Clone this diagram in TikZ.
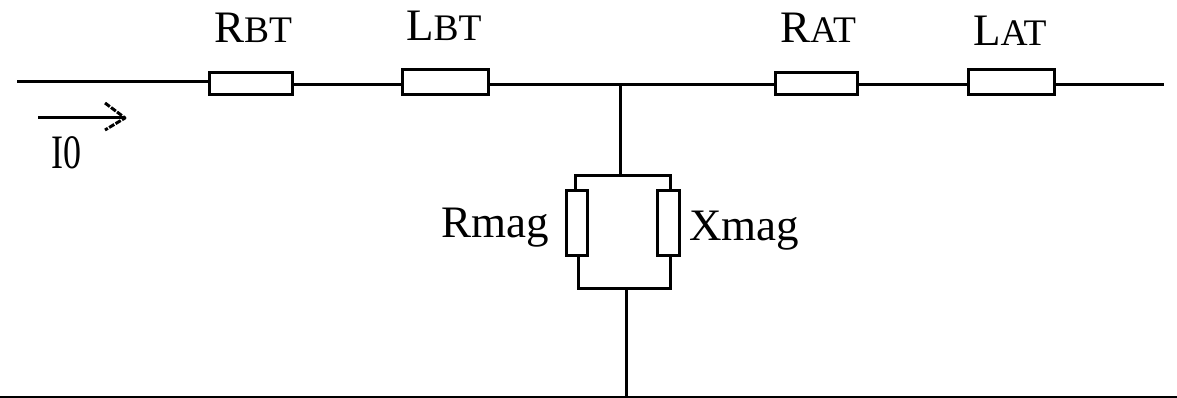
\documentclass[tikz,border=0pt]{standalone}
\usepackage{fontspec}
\setmainfont{Liberation Serif}
\newcommand{\bigf}{\fontsize{45}{45}\selectfont}
\newcommand{\smallf}{\fontsize{37.5}{37.5}\selectfont}
\tikzset{
  wire/.style={line width=3pt,black},
  res/.style={draw,line width=3pt,fill=white,inner sep=0pt,outer sep=0pt},
  lab/.style={inner sep=0pt,anchor=base west},
  openhead/.style={line width=3pt,dash pattern=on 6pt off 1.5pt,line join=round}
}
\begin{document}
\begin{tikzpicture}[x=1pt,y=-1pt]
\useasboundingbox (0,0) rectangle (1177,398);
% series elements
\node[res,minimum width=83pt,minimum height=22pt] (rbt) at (250.5,84) {};
\node[res,minimum width=86pt,minimum height=25pt] (lbt) at (445,82.5) {};
\node[res,minimum width=82pt,minimum height=22pt] (rat) at (816,84) {};
\node[res,minimum width=86pt,minimum height=25pt] (lat) at (1011,82.5) {};
% shunt elements
\node[res,minimum width=21pt,minimum height=64pt] (rmag) at (576.5,223) {};
\node[res,minimum width=22pt,minimum height=64pt] (xmag) at (668,223) {};
% coordinates
\coordinate (in) at (17,82);
\coordinate (rbtin) at (209,82);
\coordinate (rbtout) at (292,85);
\coordinate (lbtin) at (402,85);
\coordinate (lbtout) at (488,85);
\coordinate (ratin) at (775,85);
\coordinate (ratout) at (857,85);
\coordinate (latin) at (968,85);
\coordinate (latout) at (1054,85);
\coordinate (out) at (1164,85);
\coordinate (tee) at (620.5,85);
\coordinate (toprail) at (620.5,176);
\coordinate (tl) at (575,176);
\coordinate (tr) at (670,176);
\coordinate (bl) at (578,288);
\coordinate (br) at (670,288);
\coordinate (botrail) at (626,288);
\coordinate (gnd) at (626,397);
\coordinate (gl) at (0,397);
\coordinate (gr) at (1177,397);
\coordinate (arrs) at (38,118);
\coordinate (arre) at (125,118);
\coordinate (arru) at (105,103);
\coordinate (arrd) at (105,130);
% wires
\draw[wire] (in) -- (rbtin);
\draw[wire] (rbtout) -- (lbtin);
\draw[wire] (lbtout) -- (ratin);
\draw[wire] (ratout) -- (latin);
\draw[wire] (latout) -- (out);
\draw[wire] (tee) -- (toprail);
\draw[wire,line cap=rect] (tl) -- (tr);
\draw[wire] (tl) -- (tl |- rmag.north);
\draw[wire] (tr) -- (tr |- xmag.north);
\draw[wire] (bl |- rmag.south) -- (bl) -- (br) -- (br |- xmag.south);
\draw[wire] (botrail) -- (gnd);
\draw[wire] (gl) -- (gr);
% current arrow
\draw[line width=3pt] (arrs) -- (arre);
\draw[openhead] (arru) -- (arre) -- (arrd);
% labels
\node[lab] (lrbt) at (214,43) {\bigf R\smallf BT};
\node[lab] (llbt) at (406,41) {\bigf L\smallf BT};
\node[lab] (lrat) at (780,43) {\bigf R\smallf AT};
\node[lab] (llat) at (973,46) {\bigf L\smallf AT};
\node[lab,xscale=.75,transform shape] (lio) at (51,168) {\fontsize{48}{48}\selectfont I0};
\node[lab] (lrmag) at (441,237) {\bigf Rmag};
\node[lab] (lxmag) at (689,240) {\bigf Xmag};
\end{tikzpicture}
\end{document}
